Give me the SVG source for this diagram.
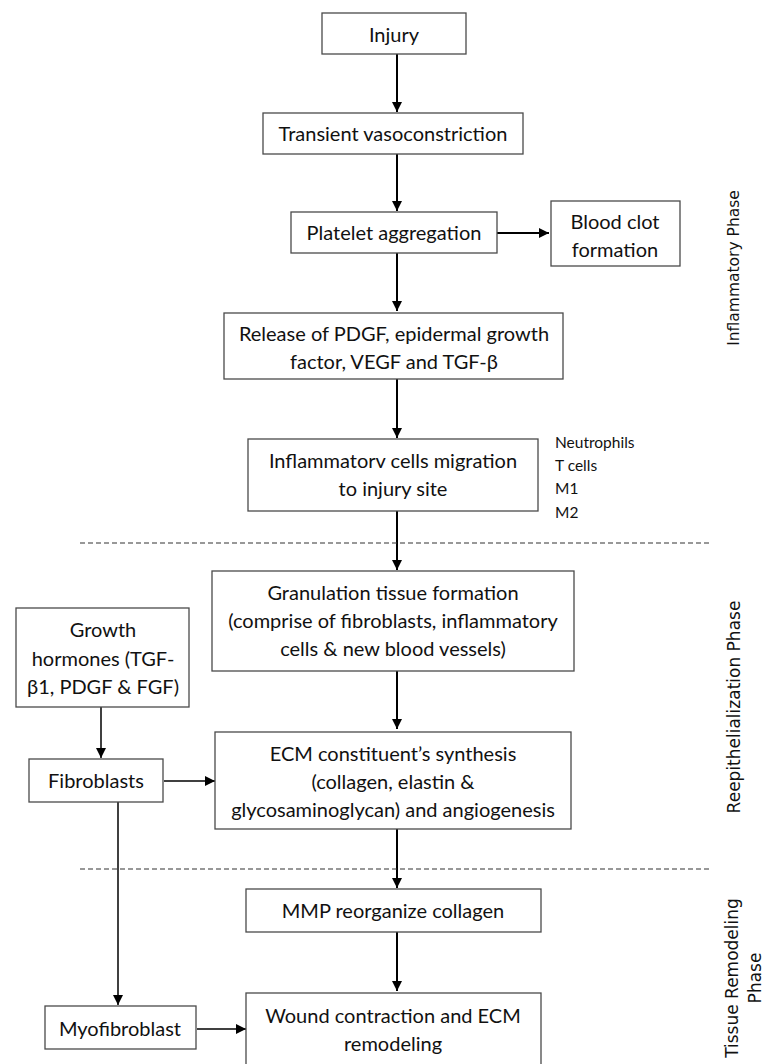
<svg xmlns="http://www.w3.org/2000/svg" width="766" height="1064" viewBox="0 0 766 1064">
<style>
.box{fill:#fff;stroke:#4a4a4a;stroke-width:1.3}
.t{font-family:Lato,"Liberation Sans",sans-serif;font-size:20px;fill:#111;text-anchor:middle;dominant-baseline:central}
.s{font-family:Lato,"Liberation Sans",sans-serif;font-size:15.5px;fill:#111;dominant-baseline:central}
.ph{font-family:"DejaVu Sans","Liberation Sans",sans-serif;font-size:17px;fill:#111;text-anchor:middle;dominant-baseline:central}
.a{stroke:#000;stroke-width:2;fill:none;marker-end:url(#ah)}
.a2{stroke:#000;stroke-width:1.5;fill:none;marker-end:url(#ah)}
.d{stroke:#333;stroke-width:1.2;stroke-dasharray:5 3;fill:none}
</style>
<defs>
<marker id="ah" markerUnits="userSpaceOnUse" markerWidth="10" markerHeight="10" refX="10" refY="5" orient="auto">
<path d="M0,0 L10,5 L0,10 z" fill="#000"/>
</marker>
</defs>
<rect width="766" height="1064" fill="#fff"/>
<g id="connectors">
<line class="a" x1="397" y1="54" x2="397" y2="112"/>
<line class="a" x1="397" y1="154" x2="397" y2="211"/>
<line class="a" x1="497" y1="233" x2="549" y2="233"/>
<line class="a" x1="397" y1="253" x2="397" y2="311"/>
<line class="a" x1="397" y1="379" x2="397" y2="438"/>
<line class="a" x1="397" y1="511" x2="397" y2="570"/>
<line class="a" x1="397" y1="671" x2="397" y2="729"/>
<line class="a" x1="397" y1="829" x2="397" y2="888"/>
<line class="a" x1="397" y1="932" x2="397" y2="991"/>
<line class="a2" x1="101" y1="707" x2="101" y2="758"/>
<line class="a2" x1="164" y1="781" x2="215" y2="781"/>
<line class="a2" x1="118" y1="802" x2="118" y2="1005"/>
<line class="a2" x1="197" y1="1029" x2="246" y2="1029"/>
<line class="d" x1="80" y1="543" x2="711" y2="543"/>
<line class="d" x1="80" y1="869" x2="711" y2="869"/>
</g>
<g id="injury"><rect class="box" x="322" y="13" width="144" height="41"/><text class="t" x="394" y="34">Injury</text></g>
<g id="vasoconstriction"><rect class="box" x="263" y="113" width="260" height="41"/><text class="t" x="393" y="133">Transient vasoconstriction</text></g>
<g id="platelet"><rect class="box" x="291" y="212" width="206" height="41"/><text class="t" x="394" y="232">Platelet aggregation</text></g>
<g id="bloodclot"><rect class="box" x="551" y="201" width="129" height="65"/><text class="t" x="615" y="221">Blood clot</text><text class="t" x="615" y="249">formation</text></g>
<g id="release"><rect class="box" x="224" y="313" width="339" height="66"/><text class="t" x="394" y="333">Release of PDGF, epidermal growth</text><text class="t" x="394" y="361">factor, VEGF and TGF-β</text></g>
<g id="migration"><rect class="box" x="248" y="439" width="290" height="72"/><text class="t" x="393" y="460">Inflammatorv cells migration</text><text class="t" x="393" y="488">to injury site</text></g>
<g id="cells"><text class="s" x="555" y="442">Neutrophils</text><text class="s" x="555" y="465">T cells</text><text class="s" x="555" y="488">M1</text><text class="s" x="555" y="512">M2</text></g>
<g id="granulation"><rect class="box" x="212" y="571" width="362" height="100"/><text class="t" x="393" y="592">Granulation tissue formation</text><text class="t" x="393" y="620">(comprise of fibroblasts, inflammatory</text><text class="t" x="393" y="648">cells &amp; new blood vessels)</text></g>
<g id="growth"><rect class="box" x="16" y="608" width="173" height="99"/><text class="t" x="103" y="629">Growth</text><text class="t" x="103" y="658">hormones (TGF-</text><text class="t" x="103" y="686">β1, PDGF &amp; FGF)</text></g>
<g id="ecm"><rect class="box" x="215" y="732" width="356" height="97"/><text class="t" x="393" y="753">ECM constituent’s synthesis</text><text class="t" x="393" y="781">(collagen, elastin &amp;</text><text class="t" x="393" y="809">glycosaminoglycan) and angiogenesis</text></g>
<g id="fibroblasts"><rect class="box" x="29" y="759" width="134" height="43"/><text class="t" x="96" y="780">Fibroblasts</text></g>
<g id="mmp"><rect class="box" x="246" y="889" width="295" height="43"/><text class="t" x="393" y="910">MMP reorganize collagen</text></g>
<g id="wound"><rect class="box" x="246" y="993" width="295" height="80"/><text class="t" x="393" y="1015">Wound contraction and ECM</text><text class="t" x="393" y="1043">remodeling</text></g>
<g id="myofibroblast"><rect class="box" x="45" y="1006" width="151" height="43"/><text class="t" x="120" y="1028">Myofibroblast</text></g>
<g id="phases">
<text class="ph" style="font-size:15.5px" transform="translate(734,268) rotate(-90)">Inflammatory Phase</text>
<text class="ph" transform="translate(734,707) rotate(-90)">Reepithelialization Phase</text>
<text class="ph" transform="translate(732,978) rotate(-90)">Tissue Remodeling</text>
<text class="ph" transform="translate(755,978) rotate(-90)">Phase</text>
</g>
</svg>
